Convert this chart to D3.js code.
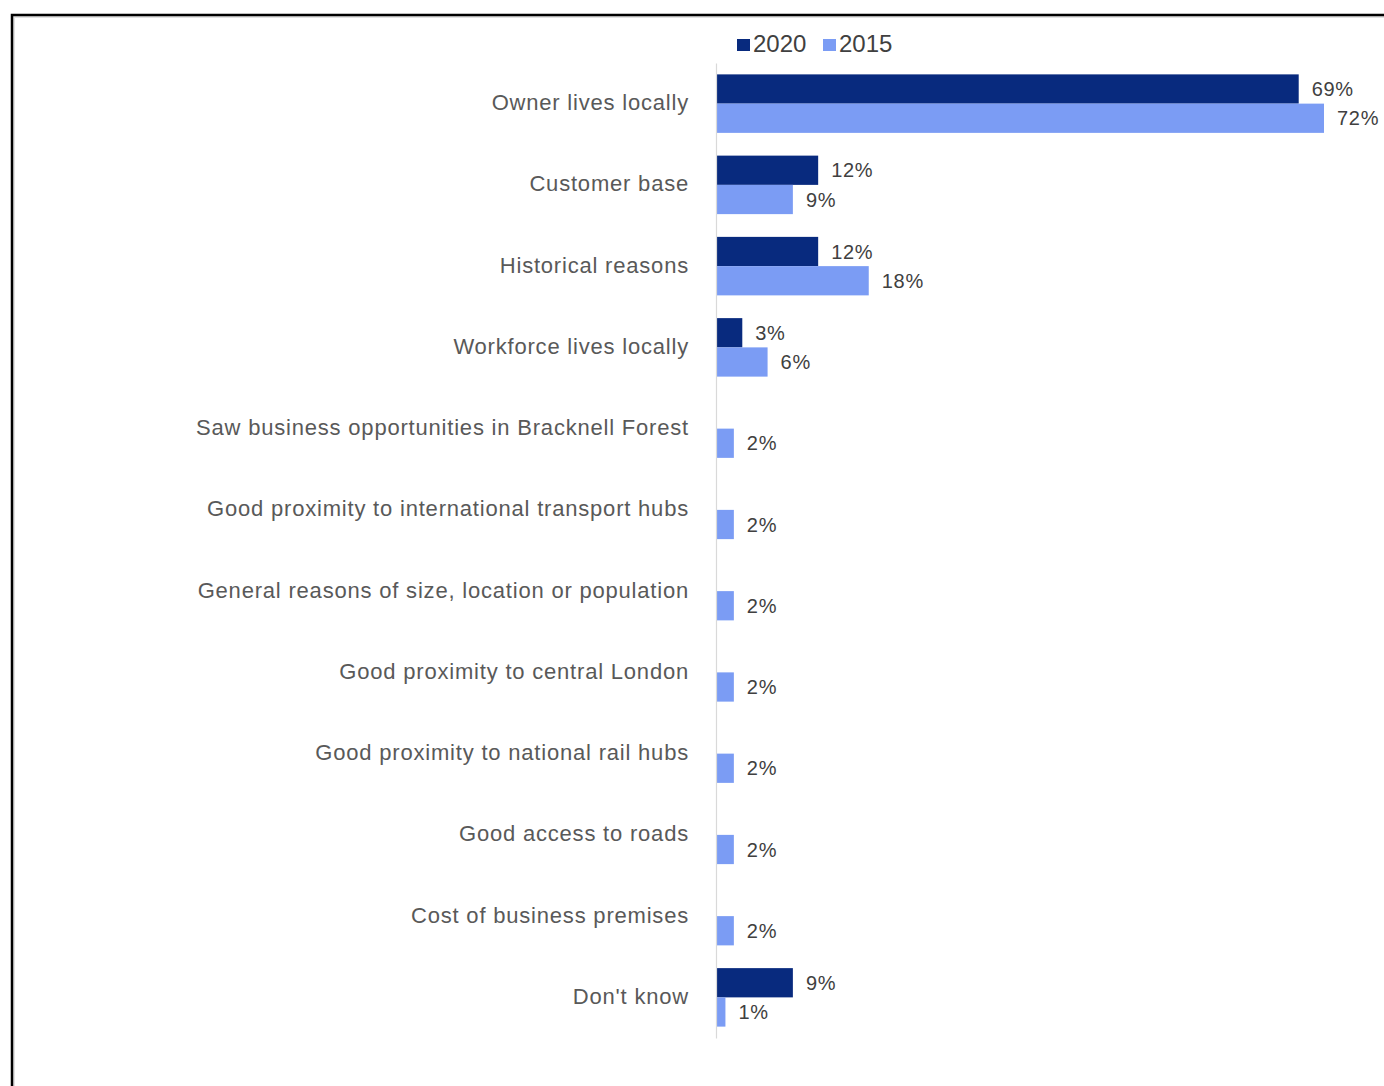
<!DOCTYPE html>
<html>
<head>
<meta charset="utf-8">
<script src="https://cdn.jsdelivr.net/npm/d3@7"></script>
<style>
  html, body { margin: 0; padding: 0; background: #fff; }
  svg { display: block; font-family: 'Liberation Sans', Arial, sans-serif; }
</style>
</head>
<body>
<div id="chart"></div>
<script>
const categories = [
  'Owner lives locally',
  'Customer base',
  'Historical reasons',
  'Workforce lives locally',
  'Saw business opportunities in Bracknell Forest',
  'Good proximity to international transport hubs',
  'General reasons of size, location or population',
  'Good proximity to central London',
  'Good proximity to national rail hubs',
  'Good access to roads',
  'Cost of business premises',
  "Don't know"
];
const series = ['2020', '2015'];
const values2020 = [0.69, 0.12, 0.12, 0.03, null, null, null, null, null, null, null, 0.09];
const values2015 = [0.72, 0.09, 0.18, 0.06, 0.02, 0.02, 0.02, 0.02, 0.02, 0.02, 0.02, 0.01];
const colors = ['#082a7e', '#7b9cf4'];

const width = 1384;
const height = 1086;

const rows = categories.map((c, i) => ({ cat: c, vals: [values2020[i], values2015[i]] }));

const svg = d3.select('#chart')
  .append('svg')
  .attr('width', width)
  .attr('height', height);

// frame
svg.append('rect')
  .attr('x', 14).attr('y', 17)
  .attr('width', width).attr('height', height)
  .attr('fill', 'none').attr('stroke', '#e2e2e2').attr('stroke-width', 2);
svg.append('rect')
  .attr('x', 12).attr('y', 15)
  .attr('width', width).attr('height', height)
  .attr('fill', 'none').attr('stroke', '#000').attr('stroke-width', 2.5);

const y = d3.scaleBand()
  .domain(categories)
  .range([63, 1038])
  .paddingInner(0.28)
  .paddingOuter(0.14);

const y1 = d3.scaleBand()
  .domain(series)
  .range([0, y.bandwidth()]);

const x = d3.scaleLinear()
  .domain([0, 0.72])
  .range([717, 1324]);

// bars
const g = svg.append('g')
  .selectAll('g')
  .data(rows)
  .join('g')
  .attr('transform', d => `translate(0,${y(d.cat)})`);

const cells = g.selectAll('g')
  .data(d => d.vals.map((v, i) => ({ key: series[i], v, i })).filter(e => e.v != null))
  .join('g');

cells.append('rect')
  .attr('x', x(0))
  .attr('y', d => y1(d.key))
  .attr('width', d => x(d.v) - x(0))
  .attr('height', y1.bandwidth())
  .attr('fill', d => colors[d.i]);

cells.append('text')
  .attr('x', d => x(d.v) + 13)
  .attr('y', d => y1(d.key) + y1.bandwidth() / 2)
  .attr('dy', '0.36em')
  .attr('fill', '#404040')
  .style('font-size', '20px')
  .style('letter-spacing', '0.7px')
  .text(d => d3.format('.0%')(d.v));

// axis
const yAxis = svg.append('g')
  .attr('transform', `translate(${x(0) - 1},0)`)
  .call(d3.axisLeft(y).tickSize(0).tickPadding(27));
yAxis.select('.domain').attr('stroke', '#d9d9d9').attr('stroke-width', 1.2);
yAxis.selectAll('text')
  .attr('fill', '#595959')
  .attr('dy', '0.3em')
  .style('font-size', '22px')
  .style('letter-spacing', '0.8px')
  .style('font-family', "'Liberation Sans', Arial, sans-serif");

// legend
const legend = svg.append('g')
  .selectAll('g')
  .data(series)
  .join('g')
  .attr('transform', (d, i) => `translate(${737 + i * 86},44)`);
legend.append('rect')
  .attr('x', 0).attr('y', -5)
  .attr('width', 13).attr('height', 12)
  .attr('fill', (d, i) => colors[i]);
legend.append('text')
  .attr('x', 16)
  .attr('dy', '0.34em')
  .attr('fill', '#404040')
  .style('font-size', '24px')
  .text(d => d);
</script>
</body>
</html>
